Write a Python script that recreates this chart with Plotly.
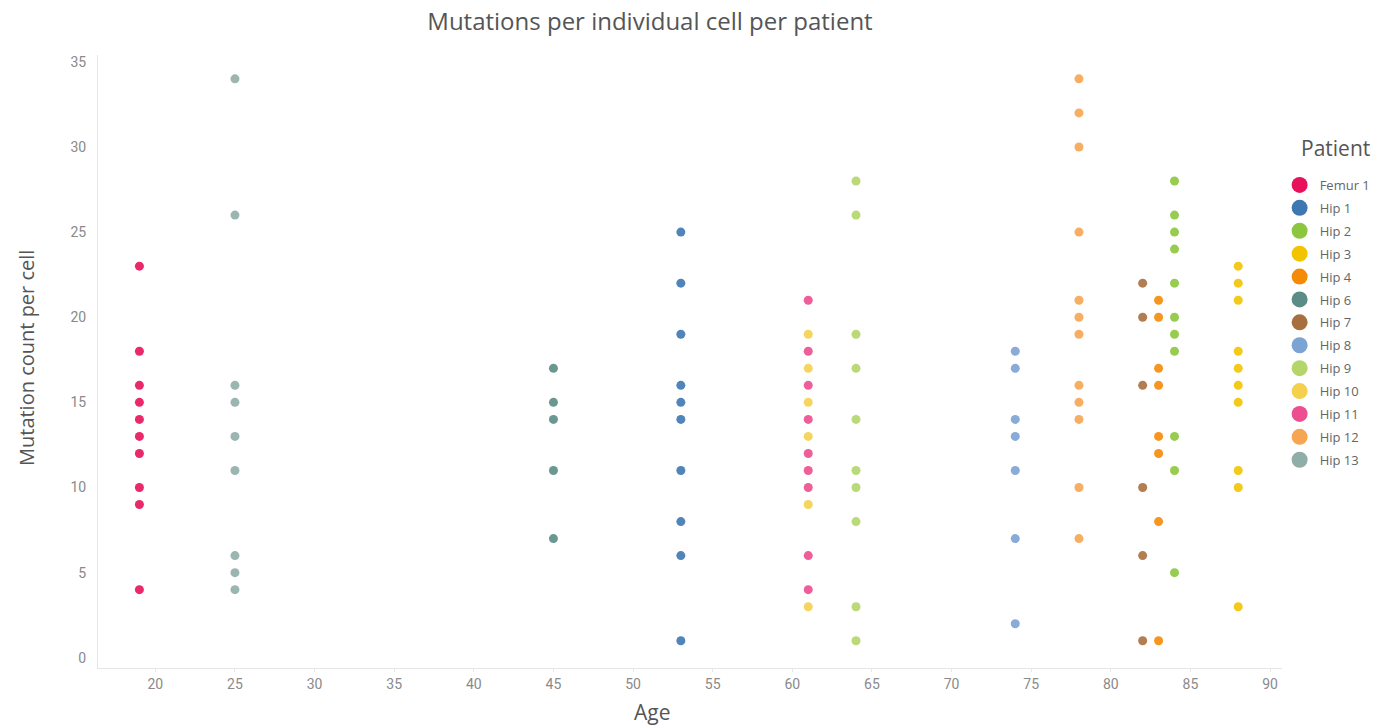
import plotly.graph_objects as go

patients = ["Femur 1", "Hip 1", "Hip 2", "Hip 3", "Hip 4", "Hip 6", "Hip 7",
            "Hip 8", "Hip 9", "Hip 10", "Hip 11", "Hip 12", "Hip 13"]
ages = [19, 53, 84, 88, 83, 45, 82, 74, 64, 61, 61, 78, 25]
colors = ["#E8115B", "#3E78B2", "#8CC63E", "#F2C400", "#F58A07", "#5B8C85", "#A86F3E",
          "#7BA3D3", "#B3D56A", "#F4D04E", "#EC4E8F", "#F6A552", "#90AEA8"]

femur1 = [23, 18, 16, 15, 14, 13, 12, 10, 9, 4]
hip1 = [25, 22, 19, 16, 15, 14, 11, 8, 6, 1]
hip2 = [28, 26, 25, 24, 22, 20, 19, 18, 13, 11, 5]
hip3 = [23, 22, 21, 18, 17, 16, 15, 11, 10, 3]
hip4 = [21, 20, 17, 16, 13, 12, 8, 1]
hip6 = [17, 15, 14, 11, 7]
hip7 = [22, 20, 16, 10, 6, 1]
hip8 = [18, 17, 14, 13, 11, 7, 2]
hip9 = [28, 26, 19, 17, 14, 11, 10, 8, 3, 1]
hip10 = [19, 17, 15, 13, 9, 3]
hip11 = [21, 18, 16, 14, 12, 11, 10, 6, 4]
hip12 = [34, 32, 30, 25, 21, 20, 19, 16, 15, 14, 10, 7]
hip13 = [34, 26, 16, 15, 13, 11, 6, 5, 4]

counts = [femur1, hip1, hip2, hip3, hip4, hip6, hip7, hip8, hip9, hip10, hip11, hip12, hip13]

x_ticks = list(range(20, 95, 5))
y_ticks = list(range(0, 40, 5))

# page body has an 8px default margin -> figure drawn 8px right/down
OFF = 8
W, H = 1381 - OFF, 727 - OFF
L, T = 98 - OFF, 55 - OFF
R = W - (1282 - OFF)
B = H - (668 - OFF)
PW, PH = W - L - R, H - T - B


def px_x(px):
    return (px - OFF - L) / PW


def px_y(py):
    return (H - B - (py - OFF)) / PH


fig = go.Figure()
for name, age, col, vals in zip(patients, ages, colors, counts):
    fig.add_trace(go.Scatter(
        x=[age] * len(vals), y=vals, mode="markers", name=name,
        legendgroup=name, showlegend=False,
        marker=dict(color=col, size=9, opacity=0.9, line=dict(width=0)),
    ))
    # legend entry with a larger symbol (no data drawn)
    fig.add_trace(go.Scatter(
        x=[None], y=[None], mode="markers", name=name,
        legendgroup=name, showlegend=True,
        marker=dict(color=col, size=16, line=dict(width=0)),
    ))

fig.update_layout(
    width=W, height=H,
    margin=dict(l=L, r=R, t=T, b=B, autoexpand=False),
    plot_bgcolor="white", paper_bgcolor="white",
    title=dict(text="Mutations per individual cell per patient",
               x=(650 - OFF) / W, xanchor="center", y=1.0, yanchor="top",
               pad=dict(t=5, b=0, l=0, r=0),
               font=dict(family="Open Sans", size=24, color="#555555")),
    xaxis=dict(range=[16.4, 90.75], tickvals=x_ticks, showgrid=False, zeroline=False,
               showline=True, linecolor="#e6e6e6", linewidth=1,
               ticks="outside", tickcolor="#e6e6e6", ticklen=3,
               tickfont=dict(family="Roboto", size=14, color="#8a8a8a")),
    yaxis=dict(range=[-0.6, 35.4], tickvals=y_ticks, showgrid=False, zeroline=False,
               showline=True, linecolor="#e6e6e6", linewidth=1,
               ticks="", ticklabelstandoff=8,
               tickfont=dict(family="Roboto", size=14, color="#8a8a8a")),
    legend=dict(x=0.998, y=px_y(170), xref="paper", yref="paper",
                xanchor="left", yanchor="top",
                font=dict(family="Open Sans", size=13, color="#666666"),
                itemsizing="trace", tracegroupgap=3, traceorder="grouped",
                bgcolor="rgba(0,0,0,0)"),
    showlegend=True,
    annotations=[
        dict(text="Age", x=px_x(652), y=px_y(712), xref="paper", yref="paper",
             xanchor="center", yanchor="middle", showarrow=False,
             font=dict(family="Open Sans", size=21, color="#555555")),
        dict(text="Mutation count per cell", x=px_x(26), y=px_y(358), xref="paper", yref="paper",
             xanchor="center", yanchor="middle", showarrow=False, textangle=-90,
             font=dict(family="Open Sans", size=20, color="#555555")),
        dict(text="Patient", x=px_x(1299), y=px_y(148), xref="paper", yref="paper",
             xanchor="left", yanchor="middle", showarrow=False,
             font=dict(family="Open Sans", size=21, color="#555555")),
    ],
)

fig.write_html("out.html")
